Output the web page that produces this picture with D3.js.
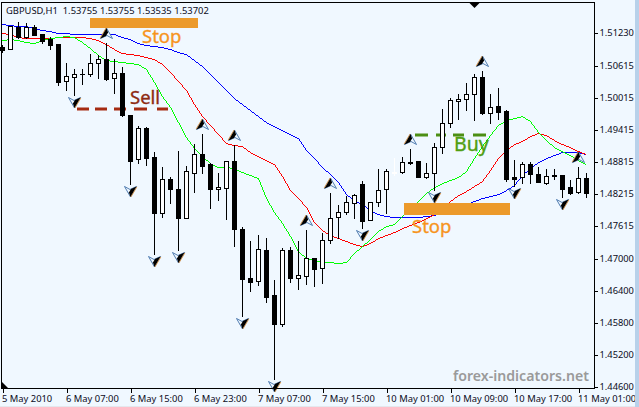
<!DOCTYPE html>
<html><head><meta charset="utf-8">
<style>html,body{margin:0;padding:0;background:#f0f8ff;overflow:hidden}svg{display:block}text{font-family:"Noto Sans",sans-serif}</style>
<script src="https://cdn.jsdelivr.net/npm/d3@7"></script></head><body>
<svg id="c" width="639" height="407"></svg>
<script>
const title="GBPUSD,H1  1.53755 1.53755 1.53535 1.53702";
const opens=[1.50956,1.50919,1.51331,1.51144,1.51331,1.51200,1.51106,1.51013,1.50319,1.50394,1.50450,1.50450,1.50656,1.50731,1.50375,1.50469,1.49681,1.48856,1.49438,1.48894,1.47844,1.48481,1.48294,1.47750,1.48594,1.48950,1.48763,1.48294,1.48313,1.48819,1.47544,1.46625,1.46569,1.47150,1.46306,1.45763,1.47150,1.46625,1.46663,1.47000,1.46813,1.47338,1.47769,1.47863,1.48031,1.48388,1.47713,1.48050,1.48294,1.48594,1.48613,1.48800,1.48819,1.48519,1.48594,1.49081,1.49531,1.49944,1.49981,1.50075,1.50394,1.49719,1.49850,1.49756,1.48519,1.48519,1.48763,1.48575,1.48406,1.48556,1.48556,1.48331,1.48238,1.48500];
const highs=[1.50994,1.51350,1.51425,1.51406,1.51369,1.51200,1.51144,1.51013,1.50656,1.50544,1.50544,1.50825,1.50806,1.51031,1.50731,1.50581,1.49681,1.49475,1.49456,1.48988,1.48706,1.48519,1.49006,1.48725,1.49138,1.49325,1.48781,1.48594,1.48819,1.49119,1.47581,1.47319,1.47431,1.47375,1.46588,1.47188,1.47206,1.47319,1.47525,1.47000,1.47469,1.48219,1.47994,1.48163,1.48200,1.48444,1.48050,1.48669,1.48669,1.48875,1.48894,1.49044,1.48819,1.48781,1.49156,1.49794,1.50000,1.50075,1.50281,1.50450,1.50506,1.50075,1.50188,1.49775,1.48838,1.48800,1.48800,1.48706,1.48669,1.48669,1.48556,1.48463,1.48706,1.48594];
const lows=[1.50863,1.50919,1.51125,1.51125,1.51181,1.51031,1.50919,1.50244,1.50150,1.50056,1.50263,1.50413,1.50375,1.50338,1.50094,1.49663,1.48388,1.48781,1.48744,1.47075,1.47769,1.48031,1.47150,1.47750,1.48238,1.48594,1.47938,1.48088,1.47731,1.47225,1.45913,1.46381,1.46494,1.46175,1.44731,1.45725,1.46550,1.46419,1.46513,1.46475,1.46531,1.47281,1.47375,1.47825,1.47750,1.47563,1.47713,1.47975,1.47844,1.48556,1.48594,1.48763,1.48519,1.48500,1.48275,1.48969,1.49456,1.49606,1.49775,1.49588,1.49700,1.49531,1.49606,1.48444,1.48350,1.48406,1.48406,1.48425,1.48388,1.48481,1.48144,1.48200,1.48219,1.48144];
const closes=[1.50900,1.51350,1.51144,1.51331,1.51181,1.51069,1.50994,1.50300,1.50413,1.50450,1.50450,1.50656,1.50731,1.50356,1.50469,1.49681,1.48819,1.49438,1.48875,1.47844,1.48481,1.48294,1.47750,1.48631,1.48950,1.48725,1.48294,1.48331,1.48819,1.47544,1.46606,1.46550,1.47169,1.46269,1.45763,1.47150,1.46625,1.46681,1.47000,1.46794,1.47338,1.47750,1.47863,1.48050,1.48181,1.47694,1.48050,1.48275,1.48631,1.48613,1.48800,1.48781,1.48519,1.48594,1.49081,1.49531,1.49963,1.49981,1.50075,1.50394,1.49719,1.49831,1.49738,1.48481,1.48481,1.48763,1.48575,1.48425,1.48538,1.48538,1.48294,1.48219,1.48500,1.48219];
const blueMA=[1.51388,1.51369,1.51359,1.51350,1.51313,1.51275,1.51247,1.51228,1.51219,1.51209,1.51209,1.51209,1.51209,1.51209,1.51191,1.51144,1.51106,1.51031,1.50994,1.50975,1.50947,1.50919,1.50863,1.50825,1.50713,1.50600,1.50450,1.50300,1.50150,1.50000,1.49888,1.49775,1.49663,1.49550,1.49475,1.49400,1.49325,1.49250,1.49025,1.48875,1.48706,1.48575,1.48425,1.48200,1.48088,1.48013,1.47900,1.47825,1.47788,1.47769,1.47769,1.47769,1.47769,1.47788,1.47806,1.47863,1.47919,1.47956,1.48013,1.48069,1.48125,1.48163,1.48200,1.48275,1.48369,1.48556,1.48688,1.48800,1.48875,1.48931,1.48988,1.48988,1.48988,1.48950];
const redMA=[1.51219,1.51200,1.51153,1.51134,1.51125,1.51125,1.51134,1.51144,1.51144,1.51144,1.51144,1.51134,1.51088,1.51013,1.50919,1.50844,1.50825,1.50806,1.50769,1.50731,1.50638,1.50488,1.50319,1.50150,1.49888,1.49663,1.49494,1.49325,1.49156,1.49119,1.49091,1.48988,1.48913,1.48838,1.48763,1.48538,1.48275,1.48125,1.47956,1.47675,1.47525,1.47431,1.47375,1.47319,1.47263,1.47225,1.47281,1.47375,1.47431,1.47488,1.47563,1.47619,1.47675,1.47750,1.47825,1.47938,1.48069,1.48181,1.48256,1.48350,1.48444,1.48650,1.48875,1.49025,1.49138,1.49194,1.49288,1.49344,1.49306,1.49213,1.49138,1.49081,1.49006,1.48950];
const greenMA=[1.51088,1.51106,1.51088,1.51050,1.51031,1.51088,1.51125,1.51144,1.51163,1.51144,1.51050,1.50938,1.50806,1.50713,1.50694,1.50675,1.50656,1.50638,1.50544,1.50300,1.50038,1.49831,1.49550,1.49269,1.49063,1.48913,1.48781,1.48706,1.48706,1.48688,1.48613,1.48556,1.48500,1.48125,1.47863,1.47656,1.47413,1.47131,1.47000,1.46963,1.46925,1.46925,1.46906,1.46925,1.47094,1.47225,1.47356,1.47506,1.47600,1.47638,1.47788,1.47956,1.48069,1.48219,1.48331,1.48406,1.48463,1.48519,1.48631,1.48875,1.49100,1.49306,1.49494,1.49588,1.49625,1.49663,1.49569,1.49363,1.49213,1.49081,1.49006,1.48931,1.48838,1.48763];
const upFractals=[13,25,29,38,41,51,60,72];
const downFractals=[9,16,19,22,30,34,45,54,64,70];
const whiteCandles=[49];
const priceTicks=[1.5123,1.50615,1.50015,1.49415,1.48815,1.48215,1.47615,1.47,1.464,1.458,1.452,1.446];
const timeLabels=["5 May 2010","6 May 07:00","6 May 15:00","6 May 23:00","7 May 07:00","7 May 15:00","10 May 01:00","10 May 09:00","10 May 17:00","11 May 01:00"];

const svg=d3.select("#c");
const bg="#f0f8ff";
svg.append("rect").attr("width",639).attr("height",407).attr("fill",bg);

const x=d3.scaleLinear().domain([0,73]).range([2.5,586.5]);
const y=d3.scaleLinear().domain([1.446,1.518375]).range([386,0]);

// moving averages: drawn as aliased one-pixel runs, the way the terminal draws them
function pixelLine(a){
  let d="";
  for(let i=0;i<a.length-1;i++){
    let x0=Math.floor(x(i)),y0=Math.round(y(a[i])),x1=Math.floor(x(i+1)),y1=Math.round(y(a[i+1]));
    const n=Math.max(Math.abs(x1-x0),Math.abs(y1-y0));
    for(let k=0;k<n;k++){
      const px=Math.round(x0+(x1-x0)*k/n),py=Math.round(y0+(y1-y0)*k/n);
      d+=`M${px},${py}h1v1h-1z`;
    }
  }
  return d;
}
[[blueMA,"#0000ff"],[redMA,"#ff0000"],[greenMA,"#00ff00"]].forEach(([a,c])=>{
  svg.append("path").attr("d",pixelLine(a)).attr("fill",c).style("shape-rendering","crispEdges");
});

// annotation fills below the candles
const orange="#ec9a2b";
[[90,18,108,10],[404,203,106,12]].forEach(r=>svg.append("rect").attr("x",r[0]).attr("y",r[1]).attr("width",r[2]).attr("height",r[3]).attr("fill",orange));
const dash=(x1,x2,yy,c,da)=>svg.append("line").attr("x1",x1).attr("x2",x2).attr("y1",yy).attr("y2",yy).attr("stroke",c).attr("stroke-width",3).attr("stroke-dasharray",da);
dash(77,168,109,"#a52b12","12 6 12 7 12 8 13 10 11");
dash(415,486,135,"#4c8f14","13 8 10 7 11 9 13");

// candles
const g=svg.append("g").style("shape-rendering","crispEdges");
opens.forEach((o,i)=>{
  const c=closes[i], bull=c>=o, px=x(i), white=whiteCandles.includes(i);
  const stroke=white?"#fff":"#000";
  g.append("line").attr("x1",px).attr("x2",px).attr("y1",Math.round(y(highs[i]))).attr("y2",Math.round(y(lows[i]))+1).attr("stroke",stroke);
  const t=Math.round(y(Math.max(o,c))), b=Math.round(y(Math.min(o,c)));
  if(b-t<1){
    g.append("line").attr("x1",px-2.5).attr("x2",px+2.5).attr("y1",t+.5).attr("y2",t+.5).attr("stroke",stroke);
  }else if(bull){
    g.append("rect").attr("x",px-2).attr("y",t+.5).attr("width",4).attr("height",b-t).attr("fill","#fff").attr("stroke",stroke);
  }else{
    g.append("rect").attr("x",px-2.5).attr("y",t).attr("width",5).attr("height",b-t+1).attr("fill","#000");
  }
});

// fractal arrows
function arrow(cx,cy,up){
  const s=svg.append("g").attr("transform",`translate(${cx},${cy}) rotate(${up?0:180})`);
  s.append("path").attr("d","M0,-5.5L6,5L0.5,2L-6,5Z").attr("fill",bg).attr("stroke","#3f6fa8").attr("stroke-width",.9);
  s.append("path").attr("d","M0,-5.5L-6,5L-0.5,2.4L1.6,-1Z").attr("fill","#000");
  s.append("path").attr("d","M-0.4,-5.5L-6.4,4.6").attr("fill","none").attr("stroke","#d9892f").attr("stroke-width",.8);
}
upFractals.forEach(i=>arrow(x(i),y(highs[i])-9.5,true));
downFractals.forEach(i=>arrow(x(i),y(lows[i])+7.5,false));

// annotation text
const label=(t,xx,yy,c,fs)=>svg.append("text").attr("x",xx).attr("y",yy).attr("fill",c).attr("stroke",c).attr("stroke-width",.35).attr("font-size",fs).text(t);
label("Stop",142,43,"#f7941d",18.5);
label("Stop",412,233,"#f7941d",18.5);
label("Sell",130,104,"#8e2a12",18.5);
label("Buy",454,151,"#4f9e10",19.5);

// frame and axes
const frame=svg.append("g").style("shape-rendering","crispEdges");
frame.append("path").attr("d","M1.5,2.5H594.5V388.5H1.5Z").attr("fill","none").attr("stroke","#000");

const yAxis=d3.axisRight(y).tickValues(priceTicks).tickSize(3).tickPadding(2).tickFormat(d3.format(".5f"));
const ya=svg.append("g").attr("transform","translate(594.5,0.5)").call(yAxis);
ya.select(".domain").remove();
ya.selectAll("line").attr("stroke","#000").style("shape-rendering","crispEdges");
ya.selectAll("text").attr("fill","#0c0c1c").attr("font-size",9.3).style("font-family",'"Noto Sans"');

const tickIdx=timeLabels.map((d,i)=>i*8);
const xAxis=d3.axisBottom(x).tickValues(tickIdx).tickSize(4).tickPadding(3).tickFormat((d,i)=>timeLabels[i]);
const xa=svg.append("g").attr("transform","translate(0,388.5)").call(xAxis);
xa.select(".domain").remove();
xa.selectAll("line").attr("stroke","#000").style("shape-rendering","crispEdges");
xa.selectAll("text").attr("text-anchor","start").attr("dx",-1).attr("fill","#0c0c1c").attr("font-size",9.4).style("font-family",'"Noto Sans"');

// shift markers
svg.append("path").attr("d","M469.5,3L479.5,3L474.5,8Z").attr("fill","#000");
svg.append("path").attr("d","M2,388L2,382L8,388Z").attr("fill","#000");

// title and watermark
svg.append("text").attr("x",6).attr("y",14).attr("fill","#0c0c1c").attr("font-size",9.4).style("white-space","pre").text(title);
svg.append("text").attr("x",453).attr("y",381).attr("fill","#9a9a9a").attr("font-size",15).attr("font-weight",600)
  .attr("textLength",136).attr("lengthAdjust","spacingAndGlyphs").text("forex-indicators.net");

// window edge
svg.append("rect").attr("x",635).attr("width",4).attr("height",407).attr("fill","#b8d1ea");
svg.append("rect").attr("y",406).attr("width",635).attr("height",1).attr("fill","#e4e8ee");
</script></body></html>
